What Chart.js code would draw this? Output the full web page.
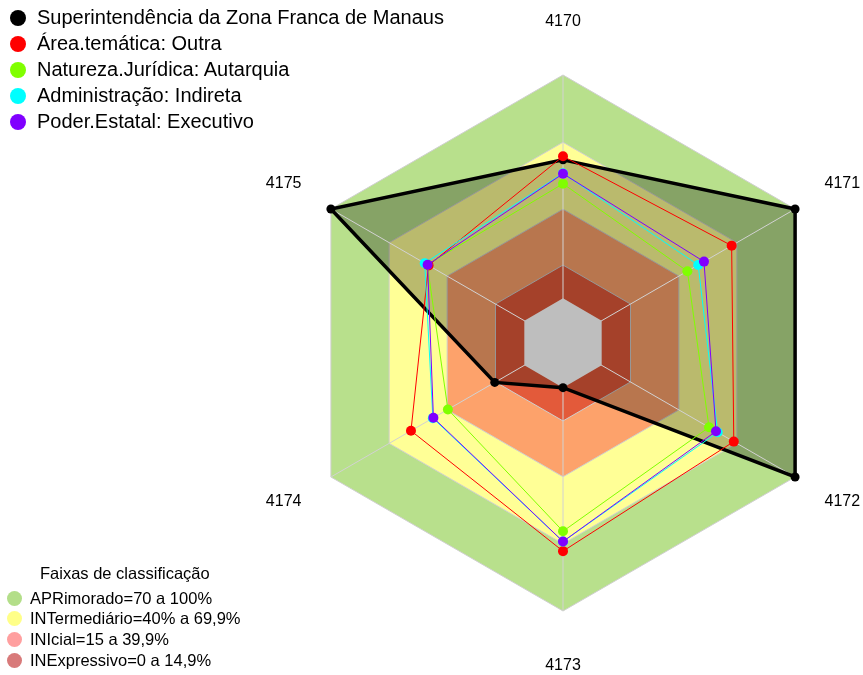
<!DOCTYPE html>
<html>
<head>
<meta charset="utf-8">
<script src="https://cdn.jsdelivr.net/npm/chart.js@4/dist/chart.umd.min.js"></script>
<style>
  body { margin: 0; background: #fff; font-family: "Liberation Sans", Arial, sans-serif; }
  #wrap { position: relative; width: 863px; height: 675px; overflow: hidden; }
  #myChart { position: absolute; left: 0; top: 0; }
  .leg { position: absolute; color: #000; white-space: nowrap; }
  .leg div { position: absolute; left: 0; }
  .leg span.dot { position: absolute; border-radius: 50%; }
  #topLegend { left: 0; top: 0; font-size: 20px; }
  #topLegend span.dot { width: 16px; height: 16px; left: 10px; }
  #topLegend span.txt { position: absolute; left: 37px; }
  #bandLegend { left: 0; top: 560px; font-size: 16.5px; }
  #bandLegend span.dot { width: 15px; height: 15px; left: 7px; }
  #bandLegend span.txt { position: absolute; left: 30px; }
</style>
</head>
<body>
<div id="wrap">
  <canvas id="myChart" width="863" height="675"></canvas>
  <div id="topLegend" class="leg"></div>
  <div id="bandLegend" class="leg"></div>
</div>
<script>
var labels = ['4170', '4171', '4172', '4173', '4174', '4175'];

var seriesNames = [
  'Superintendência da Zona Franca de Manaus',
  'Área.temática: Outra',
  'Natureza.Jurídica: Autarquia',
  'Administração: Indireta',
  'Poder.Estatal: Executivo'
];
var seriesColors = ['#000000', '#ff0000', '#80ff00', '#00ffff', '#8000ff'];
var superintendencia = [62.0, 100, 100, 0, 15.3, 100];
var areaTematica = [63.6, 67.2, 68.3, 73.2, 58.6, 49.5];
var naturezaJuridica = [51.3, 44.3, 55.5, 64.3, 39.5, 50.2];
var administracao = [56.0, 49.9, 60.0, 68.9, 47.3, 51.5];
var poderEstatal = [55.8, 52.9, 59.1, 68.9, 47.0, 50.0];

var bandTitle = 'Faixas de classificação';
var bandNames = [
  'APRimorado=70 a 100%',
  'INTermediário=40% a 69,9%',
  'INIcial=15 a 39,9%',
  'INExpressivo=0 a 14,9%'
];
var bandTops = [100, 69.9, 39.9, 14.9];
var bandFill = ['#b8e08c', '#ffff96', '#fda26b', '#e35a3a'];
var bandLegendColors = ['#b3de89', '#ffff88', '#ff9f9f', '#d87a7a'];

var allSeries = [superintendencia, areaTematica, naturezaJuridica, administracao, poderEstatal];

function flat(v) {
  return labels.map(function() { return v; });
}

var datasets = [];

// faixas de classificacao (drawn behind everything)
bandTops.forEach(function(top, i) {
  datasets.push({
    label: bandNames[i],
    data: flat(top),
    fill: 'start',
    backgroundColor: bandFill[i],
    borderColor: '#cfcfcf',
    borderWidth: 1,
    pointRadius: 0,
    order: 10 - i
  });
});

// shaded area of the main series
datasets.push({
  label: 'fill',
  data: superintendencia,
  fill: 'start',
  backgroundColor: 'rgba(0,0,0,0.27)',
  borderWidth: 0,
  pointRadius: 0,
  order: 6,
  isShade: true
});

// empty centre
datasets.push({
  label: 'centro',
  data: flat(0),
  fill: 'start',
  backgroundColor: '#bebebe',
  borderWidth: 0,
  pointRadius: 0,
  order: 5
});

allSeries.forEach(function(values, i) {
  datasets.push({
    label: seriesNames[i],
    data: values,
    fill: false,
    borderColor: seriesColors[i],
    backgroundColor: seriesColors[i],
    borderWidth: i === 0 ? 3.5 : 1,
    pointRadius: i === 0 ? 4.5 : 5,
    pointBorderWidth: 0,
    pointBackgroundColor: seriesColors[i],
    order: 4 - i
  });
});

// spokes go over the shaded area but under the centre and the lines
var spokes = {
  id: 'spokes',
  afterDatasetDraw: function(chart, args) {
    if (!chart.data.datasets[args.index].isShade) return;
    var scale = chart.scales.r;
    var ctx = chart.ctx;
    ctx.save();
    ctx.strokeStyle = '#d2d2d2';
    ctx.lineWidth = 1;
    for (var i = 0; i < labels.length; i++) {
      var p = scale.getPointPositionForValue(i, 100);
      ctx.beginPath();
      ctx.moveTo(scale.xCenter, scale.yCenter);
      ctx.lineTo(p.x, p.y);
      ctx.stroke();
    }
    ctx.restore();
  }
};

var labelPadding = [45.5, 34, 34, 47, 34, 34];

var ctx = document.getElementById('myChart');
var myChart = new Chart(ctx, {
  type: 'radar',
  data: { labels: labels, datasets: datasets },
  options: {
    responsive: false,
    animation: false,
    devicePixelRatio: 1,
    layout: { padding: { left: 263, right: 0, top: 13, bottom: 0 } },
    elements: { line: { tension: 0 } },
    plugins: {
      legend: { display: false },
      tooltip: { enabled: false }
    },
    scales: {
      r: {
        min: -20,
        max: 100,
        ticks: { display: false },
        grid: { display: false },
        angleLines: { display: false },
        pointLabels: {
          color: '#000',
          font: { family: '"Liberation Sans", Arial, sans-serif', size: 16, lineHeight: 1 },
          padding: function(c) { return labelPadding[c.index]; }
        }
      }
    }
  },
  plugins: [spokes]
});

// legends
var topLegend = document.getElementById('topLegend');
seriesNames.forEach(function(name, i) {
  var cy = 18 + i * 26;
  var row = document.createElement('div');
  row.innerHTML = '<span class="dot" style="top:' + (cy - 8) + 'px;background:' + seriesColors[i] + '"></span>' +
    '<span class="txt" style="top:' + (cy - 12) + 'px">' + name + '</span>';
  topLegend.appendChild(row);
});

var bandLegend = document.getElementById('bandLegend');
var t = document.createElement('div');
t.style.left = '40px';
t.style.top = '4px';
t.textContent = bandTitle;
bandLegend.appendChild(t);
bandNames.forEach(function(name, i) {
  var cy = 38 + i * 20.7;
  var row = document.createElement('div');
  row.innerHTML = '<span class="dot" style="top:' + (cy - 7.5) + 'px;background:' + bandLegendColors[i] + '"></span>' +
    '<span class="txt" style="top:' + (cy - 9.5) + 'px">' + name + '</span>';
  bandLegend.appendChild(row);
});
</script>
</body>
</html>
